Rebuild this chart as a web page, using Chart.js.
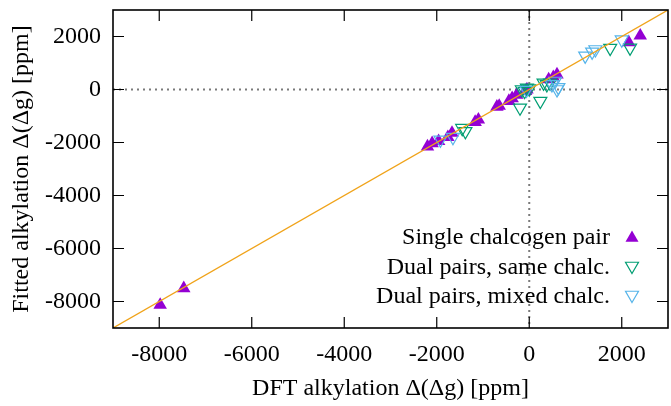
<!DOCTYPE html>
<html>
<head>
<meta charset="utf-8">
<script src="https://cdn.jsdelivr.net/npm/chart.js@4.4.1/dist/chart.umd.min.js"></script>
<style>
html,body{margin:0;padding:0;background:#fff;}
#wrap{width:671px;height:406px;position:relative;}
</style>
</head>
<body>
<div id="wrap"><canvas id="c" width="671" height="406"></canvas></div>
<script>
// ---- data ----
const xTicks = [-8000, -6000, -4000, -2000, 0, 2000];
const yTicks = [-8000, -6000, -4000, -2000, 0, 2000];
const seriesLabels = ["Single chalcogen pair", "Dual pairs, same chalc.", "Dual pairs, mixed chalc."];
const singlePair = [
  [-7980,-8130],[-7470,-7500],[-2200,-2150],[-2100,-2030],[-1960,-1950],[-1760,-1800],
  [-1670,-1640],[-1170,-1230],[-1100,-1140],[-700,-650],[-650,-620],[-440,-440],
  [-370,-330],[-270,-200],[-80,-60],[-50,0],[420,380],[520,460],[600,560],
  [2150,1780],[2400,2030]
];
const dualSame = [
  [-1450,-1460],[-1380,-1580],[-200,-690],[-160,0],[-100,-60],[-50,60],[0,30],
  [240,-440],[310,250],[380,190],[450,250],[1750,1560],[2180,1570]
];
const dualMixed = [
  [-1920,-1900],[-1650,-1800],[-60,-20],[490,190],[560,320],[600,0],[630,80],
  [1210,1270],[1360,1420],[1430,1510],[2000,1880]
];
const fitLine = [[-9000,-9000],[3000,3000]];

const colors = ["#9400d3", "#009e73", "#56b4e9"];
const toPts = a => a.map(p => ({x:p[0], y:p[1]}));
const FONT = "'Liberation Serif','DejaVu Serif',serif";
const FS = 24;

function drawTri(ctx, x, y, r, down, fill, stroke){
  ctx.beginPath();
  const s = down ? -1 : 1;
  ctx.moveTo(x, y - s*r);
  ctx.lineTo(x + r*Math.sin(2*Math.PI/3), y + s*r*0.5);
  ctx.lineTo(x - r*Math.sin(2*Math.PI/3), y + s*r*0.5);
  ctx.closePath();
  if (fill){ctx.fillStyle = fill; ctx.fill();}
  if (stroke){ctx.strokeStyle = stroke; ctx.lineWidth = 1.2; ctx.stroke();}
}

const framePlugin = {
  id: 'frame',
  beforeDatasetsDraw(chart){
    const {ctx, chartArea:a, scales:{x, y}} = chart;
    ctx.save();
    ctx.strokeStyle = '#7a7a7a';
    ctx.lineWidth = 2;
    ctx.setLineDash([2,4]);
    ctx.beginPath();
    const x0 = x.getPixelForValue(0), y0 = y.getPixelForValue(0);
    ctx.moveTo(x0, a.top); ctx.lineTo(x0, a.bottom);
    ctx.moveTo(a.left, y0); ctx.lineTo(a.right, y0);
    ctx.stroke();
    ctx.setLineDash([]);
    ctx.strokeStyle = '#000';
    ctx.lineWidth = 1.2;
    ctx.beginPath();
    const TL = 11;
    xTicks.forEach(v => {
      const px = x.getPixelForValue(v);
      ctx.moveTo(px, a.bottom); ctx.lineTo(px, a.bottom - TL);
      ctx.moveTo(px, a.top); ctx.lineTo(px, a.top + TL);
    });
    yTicks.forEach(v => {
      const py = y.getPixelForValue(v);
      ctx.moveTo(a.left, py); ctx.lineTo(a.left + TL, py);
      ctx.moveTo(a.right, py); ctx.lineTo(a.right - TL, py);
    });
    ctx.stroke();
    ctx.restore();
  },
  afterDraw(chart){
    const {ctx, chartArea:a} = chart;
    ctx.save();
    ctx.strokeStyle = '#000';
    ctx.lineWidth = 1.6;
    ctx.strokeRect(a.left, a.top, a.right - a.left, a.bottom - a.top);
    ctx.font = FS + "px " + FONT;
    ctx.textAlign = 'right';
    ctx.textBaseline = 'middle';
    const rows = [237, 267, 296];
    seriesLabels.forEach((lab, i) => {
      ctx.fillStyle = '#000';
      ctx.fillText(lab, 610, rows[i] + 1);
      if (i === 0) drawTri(ctx, 632, rows[i] + 1, 7.5, false, colors[0], null);
      else drawTri(ctx, 632, rows[i] - 1, 7.5, true, null, colors[i]);
    });
    ctx.restore();
  }
};

function noPad(s){ s.paddingTop = 0; s.paddingBottom = 0; s.paddingLeft = 0; s.paddingRight = 0; }

new Chart(document.getElementById('c'), {
  type: 'scatter',
  data: {
    datasets: [
      {label: seriesLabels[0], data: toPts(singlePair), order: 3,
       pointStyle: 'triangle', pointRadius: 7.8, pointBackgroundColor: colors[0],
       pointBorderColor: colors[0], pointBorderWidth: 0},
      {label: seriesLabels[1], data: toPts(dualSame), order: 2,
       pointStyle: 'triangle', rotation: 180, pointRadius: 7.5, pointBackgroundColor: 'rgba(0,0,0,0)',
       pointBorderColor: colors[1], pointBorderWidth: 1.2},
      {label: seriesLabels[2], data: toPts(dualMixed), order: 1,
       pointStyle: 'triangle', rotation: 180, pointRadius: 7.5, pointBackgroundColor: 'rgba(0,0,0,0)',
       pointBorderColor: colors[2], pointBorderWidth: 1.2},
      {type: 'line', label: 'fit', data: toPts(fitLine), order: 0,
       borderColor: '#f0a31a', borderWidth: 1.3, pointRadius: 0, fill: false, tension: 0}
    ]
  },
  options: {
    responsive: false,
    animation: false,
    events: [],
    layout: {autoPadding: false, padding: {top: 10, right: 3, left: 0, bottom: 0}},
    plugins: {legend: {display: false}, tooltip: {enabled: false}},
    scales: {
      x: {
        type: 'linear', min: -9000, max: 3000,
        grid: {display: false, drawTicks: false},
        border: {display: false},
        afterBuildTicks: s => { s.ticks = xTicks.map(v => ({value: v})); },
        afterFit: s => { s.height = 78; noPad(s); },
        ticks: {color: '#000', font: {family: FONT, size: FS}, padding: 12,
                callback: v => String(v), maxRotation: 0, autoSkip: false},
        title: {display: true, text: 'DFT alkylation Δ(Δg) [ppm]', color: '#000',
                font: {family: FONT, size: FS}, padding: {top: 0, bottom: 3}}
      },
      y: {
        type: 'linear', min: -9000, max: 3000,
        grid: {display: false, drawTicks: false},
        border: {display: false},
        afterBuildTicks: s => { s.ticks = yTicks.map(v => ({value: v})); },
        afterFit: s => { s.width = 113; noPad(s); },
        ticks: {color: '#000', font: {family: FONT, size: FS}, padding: 12,
                callback: v => String(v), autoSkip: false},
        title: {display: true, text: 'Fitted alkylation Δ(Δg) [ppm]', color: '#000',
                font: {family: FONT, size: FS}, padding: {top: 7, bottom: 0}}
      }
    }
  },
  plugins: [framePlugin]
});
</script>
</body>
</html>
